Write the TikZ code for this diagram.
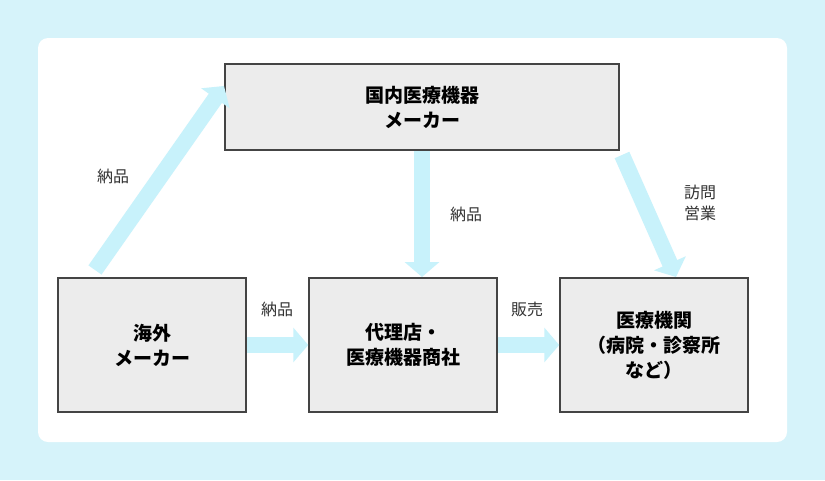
\documentclass[tikz,border=0pt]{standalone}
\usepackage{fontspec}
\setmainfont{Noto Sans CJK JP}
\usetikzlibrary{arrows.meta}
\definecolor{bgc}{HTML}{D6F3FA}
\definecolor{arr}{HTML}{C8F2FB}
\definecolor{boxf}{HTML}{ECECEC}
\definecolor{boxd}{HTML}{444444}
\begin{document}
\begin{tikzpicture}[x=1pt,y=-1pt,
  box/.style={draw=boxd,line width=1.5pt,fill=boxf,align=center,font=\fontsize{19}{25}\selectfont\bfseries},
  lab/.style={font=\fontsize{16}{21}\selectfont,text=black!80,align=center},
  big/.style={draw=arr,line width=16pt,-{Triangle[length=15pt,width=34pt]}}]
\useasboundingbox (0,0) rectangle (825,480);
\fill[bgc] (0,0) rectangle (825,480);
\fill[white,rounded corners=10pt] (38,38) rectangle (787,442);
\node[box,minimum width=394pt,minimum height=86pt] (top) at (422,107) {国内医療機器\\メーカー};
\node[box,minimum width=188pt,minimum height=134pt] (L) at (152,345) {海外\\メーカー};
\node[box,minimum width=188pt,minimum height=134pt] (M) at (403,345) {代理店・\\医療機器商社};
\node[box,minimum width=188pt,minimum height=134pt] (R) at (654,345) {医療機関\\（病院・診察所\\など）};
\coordinate (a1) at (95,270); \coordinate (a2) at (224,86);
\draw[big] (a1) -- (a2);
\coordinate (b1) at (422,151); \coordinate (b2) at (422,277);
\draw[big] (b1) -- (b2);
\coordinate (c1) at (622,155); \coordinate (c2) at (676,277);
\draw[big] (c1) -- (c2);
\draw[big] (L.east) -- (M.west);
\draw[big] (M.east) -- (R.west);
\node[lab] (l1) at (113,176) {納品};
\node[lab] (l2) at (466,214) {納品};
\node[lab] (l3) at (700,203) {訪問\\営業};
\node[lab] (l4) at (277,309) {納品};
\node[lab] (l5) at (527,309) {販売};
\end{tikzpicture}
\end{document}
